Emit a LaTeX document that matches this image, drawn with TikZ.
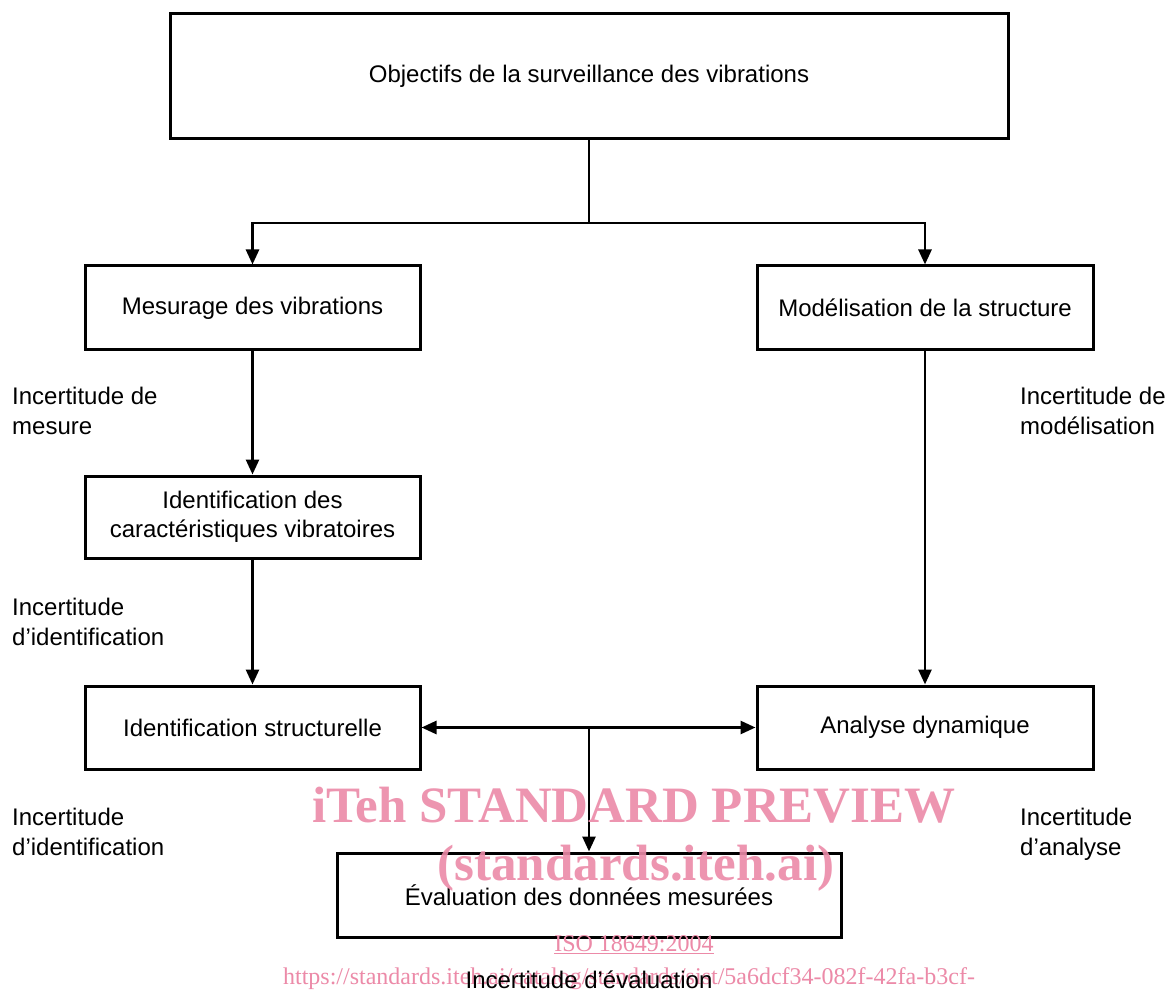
\documentclass[tikz,border=0pt]{standalone}
\usepackage{fontspec}
\setmainfont{Liberation Sans}
\newfontfamily\wmfont{Liberation Serif}
\usetikzlibrary{arrows.meta}
\definecolor{wm}{RGB}{236,138,168}
\begin{document}
\begin{tikzpicture}[x=1pt,y=-1pt,
  box/.style={draw, line width=3pt, align=center, inner sep=0pt,
    font=\fontsize{24}{29}\selectfont},
  lbl/.style={anchor=base west, align=left, inner sep=0pt,
    font=\fontsize{24}{30}\selectfont},
  conn/.style={line width=2.7pt},
  arr/.style={conn, -{Triangle[length=15pt,width=13pt]}},
  arrb/.style={conn, {Triangle[length=15pt,width=13pt]}-{Triangle[length=15pt,width=13pt]}},
  wmbig/.style={text=wm, inner sep=0pt, anchor=base, font=\wmfont\bfseries\fontsize{51}{51}\selectfont},
  wmsmall/.style={text=wm, inner sep=0pt, anchor=base, font=\wmfont\fontsize{24}{24}\selectfont}]
\useasboundingbox[fill=white] (0,0) rectangle (1168,992);

\node[box, minimum width=838, minimum height=125] (obj) at (589,76.5) {Objectifs de la surveillance des vibrations};
\node[box, minimum width=335, minimum height=84] (mes) at (252.5,308) {Mesurage des vibrations};
\node[box, minimum width=336, minimum height=84] (mod) at (925,308) {Modélisation de la structure};
\node[box, minimum width=335, minimum height=82] (idc) at (252.5,517) {Identification des\\caractéristiques vibratoires};
\node[box, minimum width=335, minimum height=83] (ids) at (252.5,727.5) {Identification structurelle};
\node[box, minimum width=336, minimum height=83] (ana) at (925,727.5) {Analyse dynamique};
\node[box, minimum width=504, minimum height=84] (eva) at (589,895) {Évaluation des données mesurées};

\coordinate (j1) at (589,223);
\coordinate (j2) at (589,727.5);
\draw[conn] (obj.south) -- (j1);
\draw[arr] (j1) -| (mes.north);
\draw[arr] (j1) -| (mod.north);
\draw[arr] (mes) -- (idc);
\draw[arr] (idc) -- (ids);
\draw[arr] (mod) -- (ana);
\draw[arrb] (ids.east) -- (ana.west);
\draw[arr] (j2) -- (eva.north);

\node[lbl] (l1) at (12,435) {Incertitude de\\mesure};
\node[lbl] (l2) at (12,645) {Incertitude\\d’identification};
\node[lbl] (l3) at (12,855) {Incertitude\\d’identification};
\node[lbl] (r1) at (1020,435) {Incertitude de\\modélisation};
\node[lbl] (r2) at (1020,855) {Incertitude\\d’analyse};

\node[wmbig, opacity=0.9] (w1) at (634,822) {iTeh STANDARD PREVIEW};
\node[wmbig, opacity=0.9] (w2) at (636,880) {(standards.iteh.ai)};
\node[wmsmall] (w3) at (634,951) {\underline{ISO 18649:2004}};
\node[wmsmall] (w4) at (629,984) {https://standards.iteh.ai/catalog/standards/sist/5a6dcf34-082f-42fa-b3cf-};
\node[anchor=base, inner sep=0pt, font=\fontsize{24}{29}\selectfont] (l4) at (589,988) {Incertitude d’évaluation};
\end{tikzpicture}
\end{document}
